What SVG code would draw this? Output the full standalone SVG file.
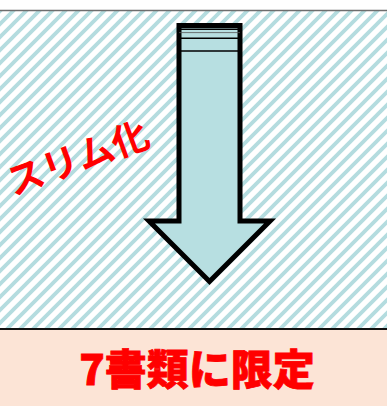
<svg xmlns="http://www.w3.org/2000/svg" width="387" height="406" viewBox="0 0 387 406">
  <defs>
    <pattern id="hatch" patternUnits="userSpaceOnUse" x="0" y="11" width="13" height="13">
      <rect width="13" height="13" fill="#ffffff"/>
      <path d="M-2,15 L15,-2 M-2,2 L2,-2 M11,15 L15,11" stroke="#b4dcdf" stroke-width="3.8"/>
    </pattern>
    <style>
      .red { fill: #ff0000; }
      .band { font-family: "Noto Sans CJK JP", "Noto Sans", sans-serif; }
      .rule { stroke: #000; stroke-width: 1.5; }
    </style>
  </defs>

  <rect x="0" y="0" width="387" height="406" fill="#ffffff"/>

  <g id="slim-area">
    <rect x="0" y="11" width="387" height="317" fill="url(#hatch)"/>
    <line x1="0" y1="10.5" x2="387" y2="10.5" stroke="#6e6e6e" stroke-width="1.5"/>
    <line x1="0" y1="329" x2="387" y2="329" stroke="#111" stroke-width="2"/>
  </g>

  <g id="limit-band">
    <rect x="0" y="330" width="387" height="76" fill="#fce4d6"/>
    <text class="band red" x="197" y="385" text-anchor="middle" font-size="42" font-weight="900" stroke="#ff0000" stroke-width="0.8">7書類に限定</text>
  </g>

  <g id="arrow">
    <polygon points="179,25.5 240,25.5 240,221 270,221 209.5,281.5 149,221 179,221" fill="#b7dfe1" stroke="#000" stroke-width="5"/>
    <line class="rule" x1="179" y1="29.2" x2="240" y2="29.2"/>
    <line x1="179" y1="32.6" x2="240" y2="32.6" stroke="#555" stroke-width="0.8"/>
    <line class="rule" x1="179" y1="38.3" x2="240" y2="38.3"/>
    <line class="rule" x1="179" y1="51" x2="240" y2="51"/>
  </g>

  <g id="slim-label">
    <text class="band red" transform="translate(13,196) rotate(-20)" font-size="37" font-weight="700">スリム化</text>
  </g>
</svg>
